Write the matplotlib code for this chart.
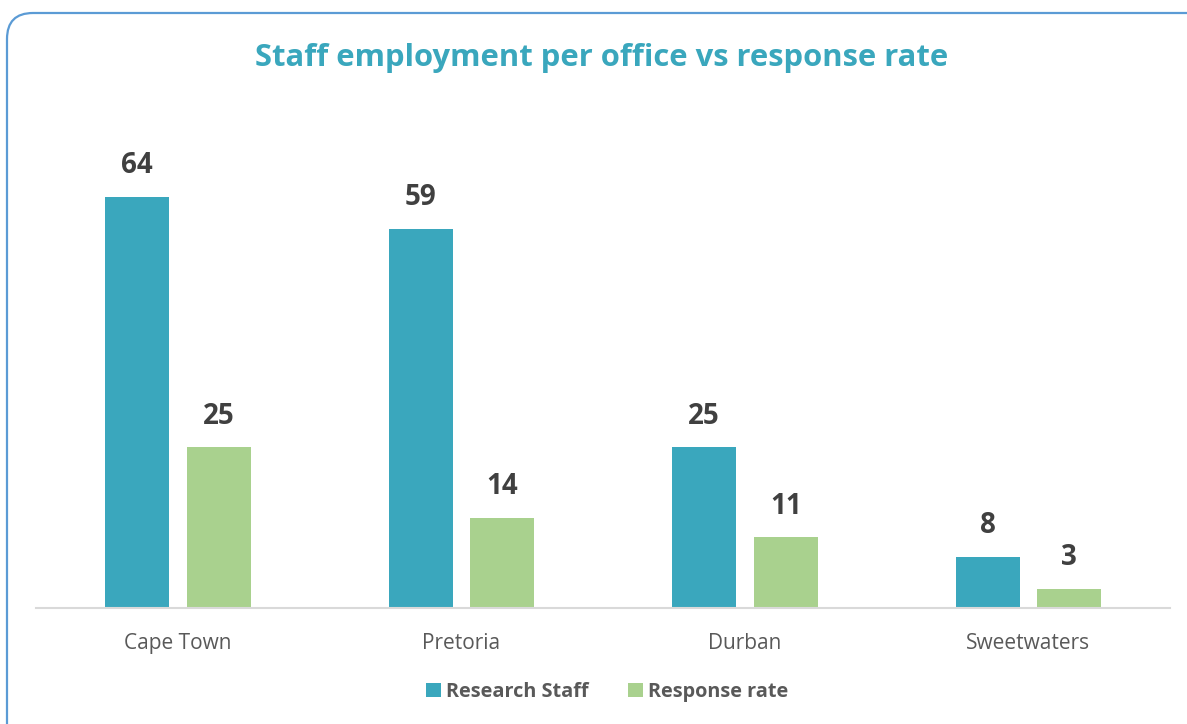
import numpy as np
import matplotlib
matplotlib.use('Agg')
import matplotlib.pyplot as plt
from matplotlib.patches import FancyBboxPatch
from matplotlib.transforms import IdentityTransform

plt.rcParams['font.family'] = ['Open Sans', 'DejaVu Sans']

offices = ['Cape Town', 'Pretoria', 'Durban', 'Sweetwaters']
research_staff = [64, 59, 25, 8]
response_rate = [25, 14, 11, 3]

teal = '#3AA7BD'
green = '#A9D18E'

fig = plt.figure(figsize=(11.87, 7.24), dpi=100)
W, H = 1187, 724

# rounded border in pixels, runs off right/bottom edge like the original
border = FancyBboxPatch((7, -60), 1300, H - 13 + 60, boxstyle='round,pad=0,rounding_size=26',
                        transform=IdentityTransform(), fill=False, edgecolor='#5B9BD5', linewidth=1.6)
fig.patches.append(border)

ax = fig.add_axes([36 / W, 116 / H, (1170 - 36) / W, (608 - 130) / H])
x = np.arange(len(offices))
bw = 0.226
b1 = ax.bar(x - 0.143, research_staff, bw, color=teal, label='Research Staff')
b2 = ax.bar(x + 0.145, response_rate, bw, color=green, label='Response rate')

for bars in (b1, b2):
    for r in bars:
        ax.text(r.get_x() + r.get_width() / 2, r.get_height() + 2.6, str(int(r.get_height())),
                ha='center', va='bottom', fontsize=20, fontweight='bold', color='#404040')

ax.set_xlim(-0.5, 3.5)
ax.set_ylim(0, 74.4)
ax.set_xticks(x)
ax.set_xticklabels(offices, fontsize=15, color='#595959')
ax.tick_params(axis='x', length=0, pad=18)
ax.set_yticks([])
for s in ['top', 'right', 'left']:
    ax.spines[s].set_visible(False)
ax.spines['bottom'].set_color('#D9D9D9')
ax.spines['bottom'].set_linewidth(1.5)

fig.text(602 / W, 1 - 58 / H, 'Staff employment per office vs response rate', ha='center', va='center',
         fontsize=22.3, fontweight='bold', color='#3AA7BD')

leg = fig.legend(loc='center', bbox_to_anchor=(607 / W, 1 - 692 / H), ncol=2, frameon=False,
                 prop={'size': 14.3, 'weight': 'bold'}, handlelength=0.75, handleheight=0.75,
                 columnspacing=2.0, handletextpad=0.25)
for t in leg.get_texts():
    t.set_color('#595959')

fig.savefig('out.png', dpi=100)
